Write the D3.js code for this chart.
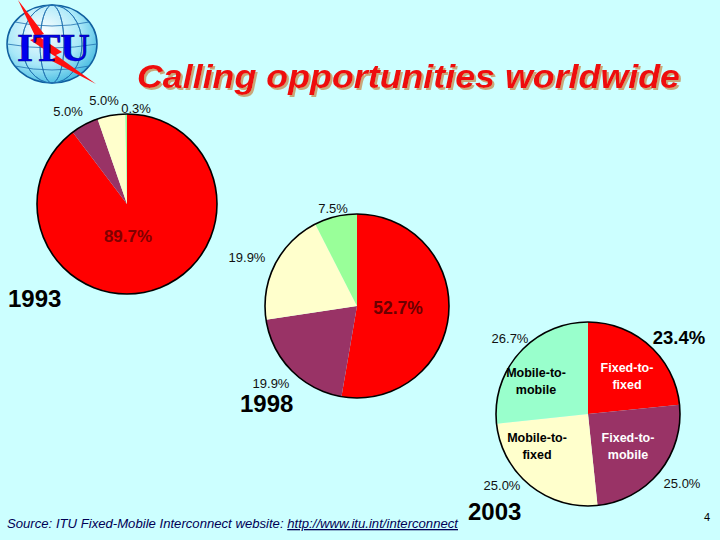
<!DOCTYPE html>
<html>
<head>
<meta charset="utf-8">
<script src="https://cdn.jsdelivr.net/npm/d3@7"></script>
<style>
html,body{margin:0;padding:0;background:#ccffff;}
svg{display:block;}
</style>
</head>
<body>
<svg id="chart" width="720" height="540"></svg>
<script>
// ---- data ----
const categories = ["Fixed-to-fixed", "Fixed-to-mobile", "Mobile-to-fixed", "Mobile-to-mobile"];
const years = ["1993", "1998", "2003"];
const values1993 = [89.7, 5.0, 5.0, 0.3];
const values1998 = [52.7, 19.9, 19.9, 7.5];
const values2003 = [23.4, 25.0, 25.0, 26.7];
const valueLabels1993 = ["89.7%", "5.0%", "5.0%", "0.3%"];
const valueLabels1998 = ["52.7%", "19.9%", "19.9%", "7.5%"];
const valueLabels2003 = ["23.4%", "25.0%", "25.0%", "26.7%"];
const innerLabels2003 = [["Fixed-to-", "fixed"], ["Fixed-to-", "mobile"], ["Mobile-to-", "fixed"], ["Mobile-to-", "mobile"]];

// ---- layout ----
const svg = d3.select("#chart");
const defs = svg.append("defs");
svg.append("rect").attr("width", 720).attr("height", 540).attr("fill", "#ccffff");

const FONT = "Liberation Sans, Arial, sans-serif";
const colorsA = ["#ff0000", "#993366", "#ffffcc", "#99ff99"];
const colorsB = ["#ff0000", "#993366", "#ffffcc", "#99ffcc"];

const pies = [
  {year: years[0], values: values1993, labels: valueLabels1993, cx: 127, cy: 204, r: 90, colors: colorsA,
   labelPos: [[128, 242, "big"], [68, 116, ""], [104, 105, ""], [136, 113, ""]],
   yearPos: [8, 307]},
  {year: years[1], values: values1998, labels: valueLabels1998, cx: 357, cy: 306, r: 92, colors: colorsA,
   labelPos: [[398, 314, "big"], [271, 388, ""], [247, 262, ""], [333, 213, ""]],
   yearPos: [240, 412]},
  {year: years[2], values: values2003, labels: valueLabels2003, cx: 588, cy: 414, r: 92, colors: colorsB,
   labelPos: [[679, 344, "big2"], [682, 488, ""], [502, 490, ""], [510, 343, ""]],
   yearPos: [468, 520]}
];
const innerPos2003 = [[627, 372], [628, 442], [537, 442], [536, 377]];

const pieGen = d3.pie().sort(null).value(d => d).startAngle(0).endAngle(2 * Math.PI);

pies.forEach((p, pi) => {
  const g = svg.append("g").attr("transform", `translate(${p.cx},${p.cy})`);
  const arc = d3.arc().innerRadius(0).outerRadius(p.r);
  const arcs = pieGen(p.values);
  g.selectAll("path.slice").data(arcs).join("path")
    .attr("class", "slice")
    .attr("d", arc)
    .attr("fill", (d, i) => p.colors[i]);
  g.append("circle").attr("r", p.r).attr("fill", "none").attr("stroke", "#000").attr("stroke-width", 1.6);

  p.labels.forEach((t, i) => {
    const [x, y, kind] = p.labelPos[i];
    const txt = svg.append("text")
      .attr("x", x).attr("y", y)
      .attr("text-anchor", "middle")
      .attr("font-family", FONT)
      .text(t);
    if (kind === "big") {
      txt.attr("font-size", pi === 0 ? 17 : 17.5).attr("font-weight", "bold")
         .attr("fill", pi === 0 ? "#800000" : "#6b0000");
    } else if (kind === "big2") {
      txt.attr("font-size", 18.5).attr("font-weight", "bold").attr("fill", "#000");
    } else {
      txt.attr("font-size", 13).attr("fill", "#111");
    }
  });

  svg.append("text")
    .attr("x", p.yearPos[0]).attr("y", p.yearPos[1])
    .attr("font-family", FONT)
    .attr("font-size", 24).attr("font-weight", "bold").attr("fill", "#000")
    .text(p.year);

  if (pi === 2) {
    arcs.forEach((d, i) => {
      const [x, y] = innerPos2003[i];
      const white = i < 2;
      const t = svg.append("text")
        .attr("text-anchor", "middle")
        .attr("font-family", FONT)
        .attr("font-size", 12.5).attr("font-weight", "bold")
        .attr("fill", white ? "#ffffff" : "#000");
      innerLabels2003[i].forEach((line, k) => {
        t.append("tspan").attr("x", x).attr("y", y + k * 17).text(line);
      });
    });
  }
});

// ---- title with shadow ----
const f = defs.append("filter").attr("id", "shadow").attr("x", "-5%").attr("y", "-20%").attr("width", "110%").attr("height", "150%");
f.append("feOffset").attr("in", "SourceAlpha").attr("dx", 2).attr("dy", 2).attr("result", "off");
f.append("feFlood").attr("flood-color", "#c8a87a").attr("result", "col");
f.append("feComposite").attr("in", "col").attr("in2", "off").attr("operator", "in").attr("result", "sh");
const fm = f.append("feMerge");
fm.append("feMergeNode").attr("in", "sh");
fm.append("feMergeNode").attr("in", "SourceGraphic");

svg.append("text").attr("x", 137).attr("y", 88)
  .attr("font-family", FONT)
  .attr("font-size", 33).attr("font-weight", "bold").attr("font-style", "italic")
  .attr("fill", "#ee1111")
  .attr("textLength", 543).attr("lengthAdjust", "spacingAndGlyphs")
  .attr("filter", "url(#shadow)")
  .text("Calling opportunities worldwide");

// ---- source ----
const src = svg.append("text").attr("x", 7).attr("y", 528)
  .attr("font-family", FONT)
  .attr("font-size", 13).attr("font-style", "italic").attr("fill", "#000055")
  .attr("textLength", 451).attr("lengthAdjust", "spacingAndGlyphs");
src.append("tspan").text("Source: ITU Fixed-Mobile Interconnect website:   ");
src.append("tspan").attr("text-decoration", "underline").text("http://www.itu.int/interconnect");

svg.append("text").attr("x", 707).attr("y", 521).attr("text-anchor", "middle")
  .attr("font-family", FONT).attr("font-size", 11).attr("fill", "#000").text("4");

// ---- ITU logo ----
const logo = svg.append("g");
const grad = defs.append("radialGradient").attr("id", "globe").attr("cx", "40%").attr("cy", "35%").attr("r", "70%");
grad.append("stop").attr("offset", "0%").attr("stop-color", "#ffffff");
grad.append("stop").attr("offset", "60%").attr("stop-color", "#a8e8f8");
grad.append("stop").attr("offset", "100%").attr("stop-color", "#40b8e0");
logo.append("ellipse").attr("cx", 52).attr("cy", 44).attr("rx", 45).attr("ry", 39)
  .attr("fill", "url(#globe)").attr("stroke", "#1060a0").attr("stroke-width", 1.5);
[-30, -12, 12, 30].forEach(dx => {
  logo.append("ellipse").attr("cx", 52).attr("cy", 44).attr("rx", Math.abs(dx)).attr("ry", 39)
    .attr("fill", "none").attr("stroke", "#2070b0").attr("stroke-width", 0.8);
});
[-22, 0, 22].forEach(dy => {
  const hw = 45 * Math.sqrt(1 - (dy / 39) ** 2);
  logo.append("path").attr("d", `M${52 - hw},${44 + dy} Q52,${44 + dy + 8} ${52 + hw},${44 + dy}`)
    .attr("fill", "none").attr("stroke", "#2070b0").attr("stroke-width", 0.8);
});
logo.append("path")
  .attr("d", "M18,0 L44,34 L38,36 L62,52 L56,55 L96,84 L50,60 L56,57 L30,40 L36,38 Z")
  .attr("fill", "#ff1010");
logo.append("text").attr("x", 17).attr("y", 61)
  .attr("font-family", "Liberation Serif, Times New Roman, serif")
  .attr("font-size", 40).attr("font-weight", "bold").attr("fill", "#0000ee")
  .attr("stroke", "#00008b").attr("stroke-width", 0.6)
  .attr("textLength", 73).attr("lengthAdjust", "spacingAndGlyphs")
  .text("ITU");
</script>
</body>
</html>
